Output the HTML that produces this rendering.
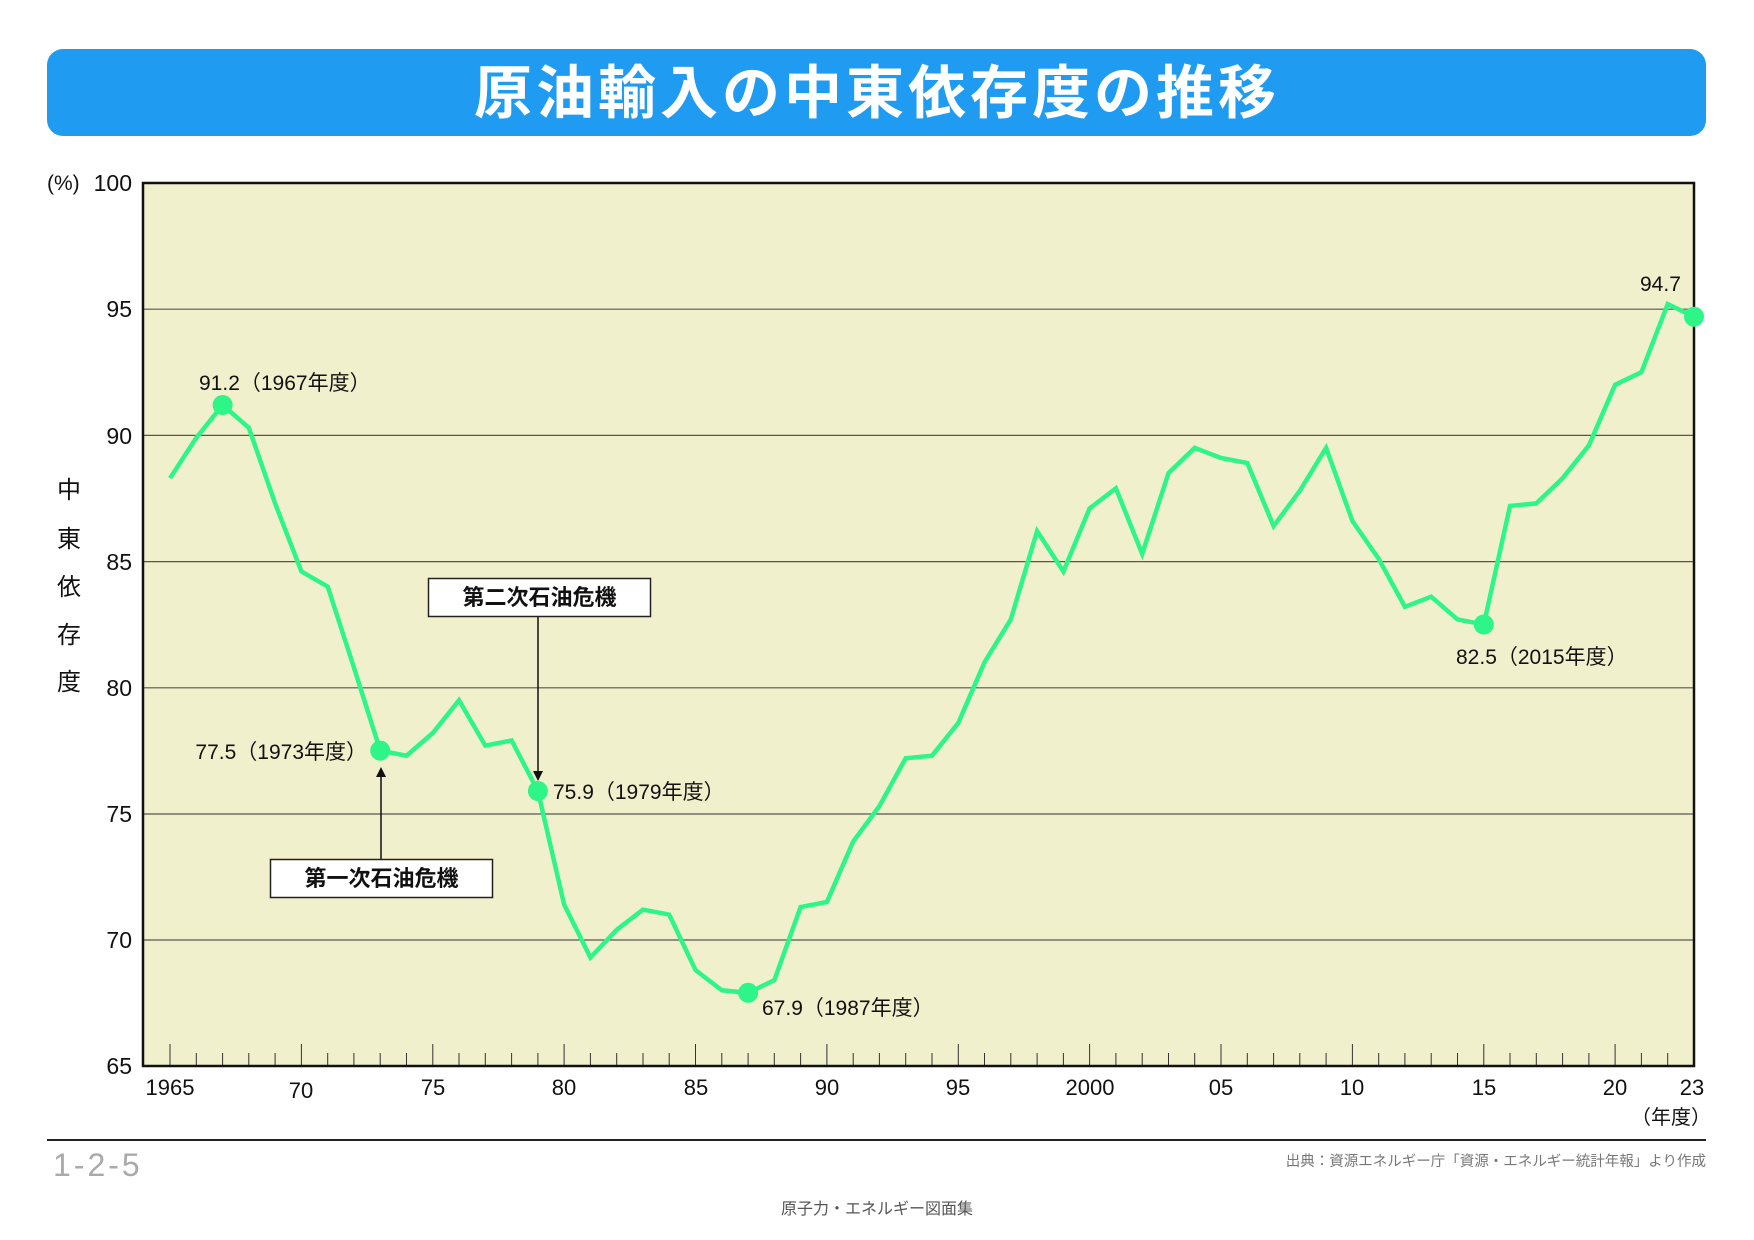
<!DOCTYPE html>
<html><head><meta charset="utf-8"><style>
body{margin:0;background:#fff;}
svg{display:block;font-family:"Liberation Sans","Noto Sans CJK JP",sans-serif;}
</style></head><body>
<svg width="1754" height="1240" viewBox="0 0 1754 1240" xmlns="http://www.w3.org/2000/svg">
<rect x="47" y="49" width="1659" height="87" rx="16" fill="#1f9bf2"/>
<text x="877" y="113" text-anchor="middle" font-size="58" font-weight="bold" fill="#fff" letter-spacing="4" font-family="'Noto Sans CJK JP',sans-serif">原油輸入の中東依存度の推移</text>

<rect x="143" y="183" width="1551" height="883" fill="#f1f0cc"/>
<g stroke="#555" stroke-width="1.2">
<line x1="143" y1="309.2" x2="1694" y2="309.2"/>
<line x1="143" y1="435.4" x2="1694" y2="435.4"/>
<line x1="143" y1="561.6" x2="1694" y2="561.6"/>
<line x1="143" y1="687.8" x2="1694" y2="687.8"/>
<line x1="143" y1="814" x2="1694" y2="814"/>
<line x1="143" y1="940" x2="1694" y2="940"/>
</g>
<g stroke="#333" stroke-width="1">
<path d="M170 1066v-22M196.3 1066v-13M222.6 1066v-13M248.8 1066v-13M275.1 1066v-13M301.4 1066v-22M327.7 1066v-13M353.9 1066v-13M380.2 1066v-13M406.5 1066v-13M432.8 1066v-22M459 1066v-13M485.3 1066v-13M511.6 1066v-13M537.9 1066v-13M564.1 1066v-22M590.4 1066v-13M616.7 1066v-13M643 1066v-13M669.2 1066v-13M695.5 1066v-22M721.8 1066v-13M748.1 1066v-13M774.3 1066v-13M800.6 1066v-13M826.9 1066v-22M853.2 1066v-13M879.4 1066v-13M905.7 1066v-13M932 1066v-13M958.3 1066v-22M984.5 1066v-13M1010.8 1066v-13M1037.1 1066v-13M1063.4 1066v-13M1089.6 1066v-22M1115.9 1066v-13M1142.2 1066v-13M1168.5 1066v-13M1194.7 1066v-13M1221 1066v-22M1247.3 1066v-13M1273.6 1066v-13M1299.8 1066v-13M1326.1 1066v-13M1352.4 1066v-22M1378.7 1066v-13M1404.9 1066v-13M1431.2 1066v-13M1457.5 1066v-13M1483.8 1066v-22M1510 1066v-13M1536.3 1066v-13M1562.6 1066v-13M1588.9 1066v-13M1615.1 1066v-22M1641.4 1066v-13M1667.7 1066v-13"/>
</g>
<rect x="143" y="183" width="1551" height="883" fill="none" stroke="#111" stroke-width="2.5"/>

<polyline fill="none" stroke="#2ef588" stroke-width="4.5" stroke-linejoin="miter" points="170,478.2 196.3,437.8 222.6,405 248.8,427.7 275.1,503.4 301.4,571.5 327.7,586.6 353.9,667.4 380.2,750.6 406.5,755.7 432.8,733 459,700.2 485.3,745.6 511.6,740.5 537.9,791 564.1,904.5 590.4,957.5 616.7,929.8 643,909.6 669.2,914.6 695.5,970.1 721.8,990.3 748.1,992.8 774.3,980.2 800.6,907.1 826.9,902 853.2,841.5 879.4,806.1 905.7,758.2 932,755.7 958.3,722.9 984.5,662.3 1010.8,619.4 1037.1,531.1 1063.4,571.5 1089.6,508.4 1115.9,488.3 1142.2,553.9 1168.5,473.1 1194.7,447.9 1221,458 1247.3,463 1273.6,526.1 1299.8,490.8 1326.1,447.9 1352.4,521 1378.7,558.9 1404.9,606.8 1431.2,596.7 1457.5,619.4 1483.8,624.5 1510,505.9 1536.3,503.4 1562.6,478.2 1588.9,445.4 1615.1,384.8 1641.4,372.2 1667.7,304.1 1694,316.7"/>
<g fill="#2ef588">
<circle cx="222.6" cy="405" r="10"/><circle cx="380.2" cy="750.6" r="10"/><circle cx="537.9" cy="791" r="10"/><circle cx="748.1" cy="992.8" r="10"/><circle cx="1483.8" cy="624.5" r="10"/><circle cx="1694" cy="316.7" r="10"/>
</g>

<g font-size="21" fill="#111">
<text x="199" y="390">91.2（1967年度）</text>
<text x="367" y="759" text-anchor="end">77.5（1973年度）</text>
<text x="553" y="799">75.9（1979年度）</text>
<text x="762" y="1015">67.9（1987年度）</text>
<text x="1456" y="664">82.5（2015年度）</text>
<text x="1640" y="291">94.7</text>
</g>

<rect x="428.5" y="578.5" width="222" height="38" fill="#fff" stroke="#222" stroke-width="1.5"/>
<text x="539.5" y="605" text-anchor="middle" font-size="22" font-weight="bold" fill="#111">第二次石油危機</text>
<line x1="538" y1="617" x2="538" y2="772" stroke="#111" stroke-width="1.5"/>
<path d="M533 771h10l-5 10z" fill="#111"/>
<rect x="270.5" y="859.5" width="222" height="38" fill="#fff" stroke="#222" stroke-width="1.5"/>
<text x="381.5" y="886" text-anchor="middle" font-size="22" font-weight="bold" fill="#111">第一次石油危機</text>
<line x1="381" y1="859" x2="381" y2="775" stroke="#111" stroke-width="1.5"/>
<path d="M376 777h10l-5 -10z" fill="#111"/>

<g font-size="23" fill="#111" text-anchor="end">
<text x="132" y="191">100</text>
<text x="132" y="317">95</text>
<text x="132" y="444">90</text>
<text x="132" y="570">85</text>
<text x="132" y="696">80</text>
<text x="132" y="822">75</text>
<text x="132" y="948">70</text>
<text x="132" y="1074">65</text>
</g>
<text x="47" y="190" font-size="21" fill="#111">(%)</text>
<g font-size="24" fill="#111" text-anchor="middle">
<text x="69" y="498">中</text><text x="69" y="547">東</text><text x="69" y="595">依</text><text x="69" y="643">存</text><text x="69" y="690">度</text>
</g>
<g font-size="22" fill="#111" text-anchor="middle">
<text x="170" y="1095">1965</text><text x="301" y="1098">70</text><text x="433" y="1095">75</text><text x="564" y="1095">80</text><text x="696" y="1095">85</text><text x="827" y="1095">90</text><text x="958" y="1095">95</text><text x="1090" y="1095">2000</text><text x="1221" y="1095">05</text><text x="1352" y="1095">10</text><text x="1484" y="1095">15</text><text x="1615" y="1095">20</text><text x="1692" y="1095">23</text>
<text x="1671" y="1124" font-size="20">（年度）</text>
</g>

<line x1="47" y1="1140" x2="1706" y2="1140" stroke="#222" stroke-width="2"/>
<text x="53" y="1176" font-size="32" fill="#aaa" letter-spacing="3">1-2-5</text>
<text x="1706" y="1166" font-size="14.5" fill="#777" text-anchor="end">出典：資源エネルギー庁「資源・エネルギー統計年報」より作成</text>
<text x="877" y="1214" font-size="16" fill="#555" text-anchor="middle">原子力・エネルギー図面集</text>
</svg>
</body></html>
